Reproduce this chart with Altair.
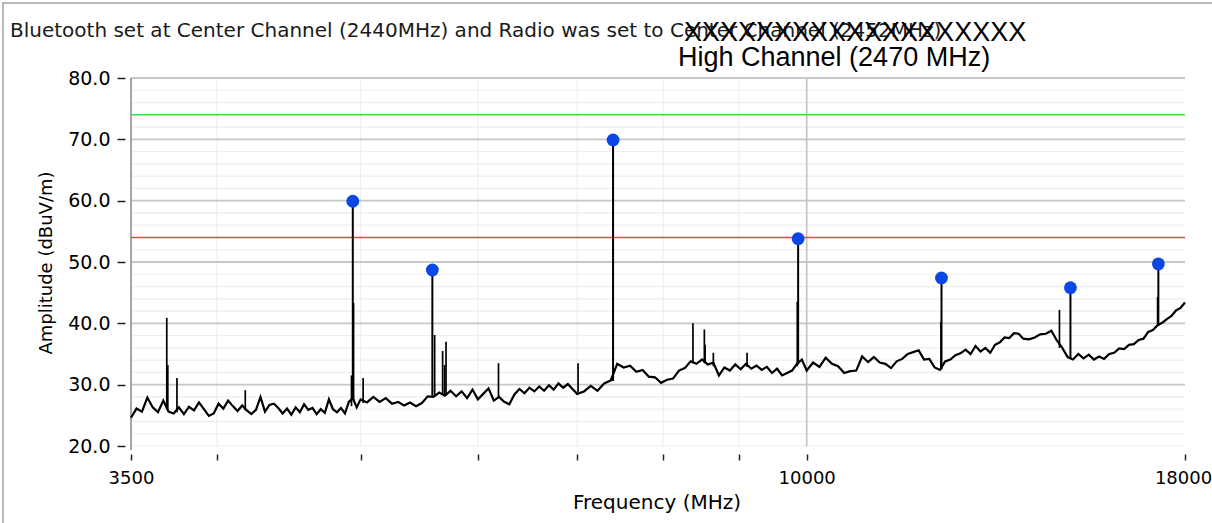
import altair as alt
import pandas as pd

# ---- Measured sweep (frequency in MHz, level in dBuV/m) ----
band_3500_5000 = [
    (3500, 24.6), (3530, 26.1), (3560, 25.6), (3590, 27.9), (3620, 26.3),
    (3650, 25.5), (3680, 27.4), (3710, 25.6), (3740, 25.3), (3770, 26.3),
    (3800, 25.2), (3830, 26.4), (3860, 25.8), (3890, 27.1), (3920, 26.0),
    (3950, 24.9), (3980, 25.3), (4010, 26.9), (4040, 26.1), (4070, 27.4),
    (4100, 26.5), (4130, 25.7), (4160, 26.6), (4190, 25.8), (4220, 25.2),
    (4250, 25.9), (4280, 28.0), (4310, 25.6), (4340, 26.7), (4370, 26.9),
    (4400, 26.2), (4430, 25.3), (4460, 26.1), (4490, 25.1), (4520, 26.3),
    (4550, 25.5), (4580, 26.8), (4610, 25.9), (4640, 26.2), (4670, 25.2),
    (4700, 26.0), (4730, 25.4), (4760, 27.6), (4790, 26.0), (4820, 25.5),
    (4850, 26.2), (4880, 25.3), (4910, 27.2), (4940, 27.8), (4970, 26.3),
    (5000, 27.6),
]
band_5000_7000 = [
    (5050, 27.1), (5100, 28.0), (5150, 27.2), (5200, 27.8), (5250, 26.9),
    (5300, 27.2), (5350, 26.6), (5400, 27.1), (5450, 26.5), (5500, 27.0),
    (5550, 28.1), (5600, 28.0), (5650, 28.7), (5700, 28.2), (5750, 29.0),
    (5800, 28.1), (5850, 28.9), (5900, 27.8), (5950, 29.2), (6000, 27.6),
    (6050, 28.5), (6100, 29.4), (6150, 27.4), (6200, 28.0), (6250, 27.2),
    (6300, 26.8), (6350, 28.4), (6400, 29.3), (6450, 28.6), (6500, 29.5),
    (6550, 28.9), (6600, 29.7), (6650, 29.0), (6700, 29.9), (6750, 29.2),
    (6800, 30.2), (6850, 29.5), (6900, 30.1), (6950, 29.3), (7000, 28.5),
]
band_7000_10000 = [
    (7075, 28.9), (7150, 29.8), (7225, 29.0), (7300, 30.2), (7375, 30.7),
    (7450, 33.4), (7525, 32.8), (7600, 33.1), (7675, 32.1), (7750, 32.4),
    (7825, 31.3), (7900, 31.2), (7975, 30.3), (8050, 30.8), (8125, 31.0),
    (8200, 32.3), (8275, 32.7), (8350, 33.8), (8425, 33.4), (8500, 34.1),
    (8575, 33.3), (8650, 33.6), (8725, 31.5), (8800, 32.8), (8875, 32.3),
    (8950, 33.3), (9025, 32.5), (9100, 33.4), (9175, 32.6), (9250, 33.1),
    (9325, 32.4), (9400, 32.9), (9475, 31.9), (9550, 32.6), (9625, 31.5),
    (9700, 31.9), (9775, 32.3), (9850, 33.4), (9925, 34.1), (10000, 32.3),
]
band_10000_14000 = [
    (10100, 33.6), (10200, 32.9), (10300, 34.4), (10400, 33.4), (10500, 33.0),
    (10600, 31.9), (10700, 32.2), (10800, 32.3), (10900, 34.6), (11000, 33.7),
    (11100, 34.5), (11200, 33.6), (11300, 33.4), (11400, 32.7), (11500, 33.8),
    (11600, 34.2), (11700, 35.0), (11800, 35.3), (11900, 35.6), (12000, 34.1),
    (12100, 34.2), (12200, 32.8), (12300, 32.4), (12400, 33.8), (12500, 34.1),
    (12600, 34.8), (12700, 35.1), (12800, 35.7), (12900, 35.0), (13000, 36.3),
    (13100, 35.4), (13200, 36.0), (13300, 35.2), (13400, 36.5), (13500, 36.9),
    (13600, 37.7), (13700, 37.6), (13800, 38.4), (13900, 38.3), (14000, 37.5),
]
band_14000_18000 = [
    (14125, 37.4), (14250, 37.7), (14375, 38.2), (14500, 38.3), (14625, 38.8),
    (14750, 37.2), (14875, 36.0), (15000, 34.5), (15125, 34.1), (15250, 35.0),
    (15375, 34.3), (15500, 34.9), (15625, 34.1), (15750, 34.6), (15875, 34.2),
    (16000, 35.0), (16125, 35.2), (16250, 35.9), (16375, 35.8), (16500, 36.5),
    (16625, 36.6), (16750, 37.3), (16875, 37.5), (17000, 38.6), (17125, 38.9),
    (17250, 39.7), (17375, 40.1), (17500, 40.7), (17625, 41.2), (17750, 42.1),
    (17875, 42.5), (18000, 43.4),
]

# Narrow spurs rising out of the noise floor
spur_freq = [3700, 3706, 3759, 4180, 4930, 4946, 5020, 5610, 5680, 5697,
             5710, 6195, 7010, 8380, 8530, 8540, 8650, 9115, 9855, 12320,
             14810, 17250]
spur_top = [40.9, 33.2, 31.1, 29.1, 31.5, 43.3, 31.1, 38.1, 35.5, 33.2,
            37.0, 33.5, 33.5, 40.0, 39.0, 36.5, 35.2, 35.2, 43.5, 40.3,
            42.2, 44.3]
spur_base = [26.0, 26.0, 25.5, 25.8, 26.5, 27.5, 27.0, 28.0, 28.3, 28.3,
             28.3, 27.8, 28.8, 33.5, 33.5, 33.5, 33.0, 32.9, 33.0, 32.6,
             36.0, 39.6]

# Marked peaks
peak_freq = [4940, 5590, 7402, 9868, 12330, 15065, 17270]
peak_level = [59.9, 48.7, 69.9, 53.8, 47.4, 45.8, 49.7]
peak_base = [27.8, 28.0, 30.6, 33.3, 32.5, 34.3, 39.6]

# Limit lines
limit_name = ["Peak limit", "Average limit"]
limit_level = [74.0, 54.0]
limit_color = ["#3ee03e", "#f24444"]

# Axis ticks and grid
x_tick_values = [3500, 4000, 5000, 6000, 7000, 8000, 9000, 10000, 18000]
x_labeled = [3500, 10000, 18000]
x_minor_grid = [4000, 5000, 6000, 7000, 8000, 9000]
x_major_grid = [10000]
y_tick_values = [20, 30, 40, 50, 60, 70, 80]
y_major_grid = [30, 40, 50, 60, 70, 80]
y_minor_grid = [20, 22, 24, 26, 28, 32, 34, 36, 38, 42, 44, 46, 48, 52, 54, 56, 58,
                62, 64, 66, 68, 72, 74, 76, 78]

title_text = ("Bluetooth set at Center Channel (2440MHz) and Radio was set to "
              "Center Channel (2452MHz)")
overstrike_text = "XXXXXXXXXXXXXXXXXXX"
subtitle_text = "High Channel (2470 MHz)"
x_title = "Frequency (MHz)"
y_title = "Amplitude (dBuV/m)"

# ---- Tables ----
trace = pd.DataFrame(
    band_3500_5000 + band_5000_7000 + band_7000_10000 + band_10000_14000 + band_14000_18000,
    columns=["freq", "level"],
)
spurs = pd.DataFrame({"freq": spur_freq, "level": spur_top, "base": spur_base})
peaks = pd.DataFrame({"freq": peak_freq, "level": peak_level, "base": peak_base})
limits = pd.DataFrame({"name": limit_name, "level": limit_level})

W, H = 1054, 368
FONT = "DejaVu Sans"

x_scale = alt.Scale(type="log", domain=[3500, 18000], nice=False)
y_scale = alt.Scale(domain=[20, 80], nice=False)

major_x = " || ".join(f"datum.value == {v}" for v in x_labeled)

# One axis definition shared by every layer so the merged axes stay identical
x_axis = alt.Axis(
    values=x_tick_values,
    labelExpr=f"({major_x}) ? format(datum.value, 'd') : ''",
    labelOverlap=False,
    labelFlush=False,
    labelFont=FONT,
    labelFontSize=18,
    labelColor="#000000",
    labelPadding=9,
    labelOffset={"condition": {"test": "datum.value == 18000", "value": -2}, "value": 0},
    domain=False,
    offset=8,
    tickColor="#222222",
    tickWidth=1.5,
    tickSize=6,
    grid=False,
    title=None,
)
y_axis = alt.Axis(
    values=y_tick_values,
    format=".1f",
    labelOverlap=False,
    labelFlush=False,
    labelFont=FONT,
    labelFontSize=19,
    labelColor="#000000",
    labelPadding=7,
    domain=False,
    offset=6,
    tickColor="#222222",
    tickWidth=1.5,
    tickSize=8,
    grid=False,
    title=None,
)


def X(field):
    return alt.X(f"{field}:Q", scale=x_scale, axis=x_axis)


def Y(field):
    return alt.Y(f"{field}:Q", scale=y_scale, axis=y_axis)


one = pd.DataFrame({"k": [0]})


def hgrid(values, color, width):
    return alt.Chart(pd.DataFrame({"level": values})).mark_rule(
        color=color, strokeWidth=width
    ).encode(y=Y("level"))


def vgrid(values, color, width):
    return alt.Chart(pd.DataFrame({"freq": values})).mark_rule(
        color=color, strokeWidth=width
    ).encode(x=X("freq"))


# Outer panel frame
frame = alt.Chart(one).mark_rect(fillOpacity=0, stroke="#a3a3a3", strokeWidth=1.5).encode(
    x=alt.value(-128), x2=alt.value(W + 60), y=alt.value(-75), y2=alt.value(H + 95)
)

grid_layers = [
    hgrid(y_minor_grid, "#ededed", 1.2),
    vgrid(x_minor_grid, "#efefef", 1.2),
    hgrid(y_major_grid, "#c8c8c8", 1.8),
    vgrid(x_major_grid, "#c2c2c2", 1.6),
]

# Left axis line
axis_line = alt.Chart(one).mark_rule(color="#9c9c9c", strokeWidth=1.8).encode(
    x=alt.value(0), y=alt.value(0), y2=alt.value(H + 4)
)

limit_rules = alt.Chart(limits).mark_rule(strokeWidth=1.6).encode(
    y=Y("level"),
    color=alt.Color("name:N", scale=alt.Scale(domain=limit_name, range=limit_color), legend=None),
)

# Measured sweep
trace_line = alt.Chart(trace).mark_line(color="#000000", strokeWidth=2.2).encode(
    x=X("freq"), y=Y("level"), order="freq:Q",
)

spur_rules = alt.Chart(spurs).mark_rule(color="#000000", strokeWidth=1.7).encode(
    x=X("freq"), y=Y("base"), y2="level:Q",
)

peak_stems = alt.Chart(peaks).mark_rule(color="#000000", strokeWidth=2).encode(
    x=X("freq"), y=Y("base"), y2="level:Q",
)

peak_dots = alt.Chart(peaks).mark_circle(size=165, color="#0b47e4", opacity=1).encode(
    x=X("freq"), y=Y("level"),
)


def label(text, x, y, size, font=FONT, angle=0, align="left", color="#000000"):
    return alt.Chart(pd.DataFrame({"t": [text]})).mark_text(
        font=font, fontSize=size, align=align, baseline="middle", angle=angle, color=color
    ).encode(text="t:N", x=alt.value(x), y=alt.value(y))


title_mark = label(title_text, -121, -47, 20, color="#1a1a1a")
strike_mark = label(overstrike_text, 553, -45, 27, font="Liberation Sans")
subtitle_mark = label(subtitle_text, 547, -20, 27, font="Liberation Sans")
x_title_mark = label(x_title, 526, 425, 20, align="center")
y_title_mark = label(y_title, -84, 185, 18, angle=270, align="center")

chart = alt.layer(
    frame, *grid_layers, axis_line, limit_rules, trace_line, spur_rules, peak_stems,
    peak_dots, title_mark, strike_mark, subtitle_mark, x_title_mark, y_title_mark,
).properties(
    width=W,
    height=H,
    padding={"left": 131, "top": 78, "right": 27, "bottom": 77},
    autosize=alt.AutoSizeParams(type="none"),
    background="#ffffff",
).configure_view(stroke=None)

chart.save("out.html", embed_options={"renderer": "svg", "actions": False})
